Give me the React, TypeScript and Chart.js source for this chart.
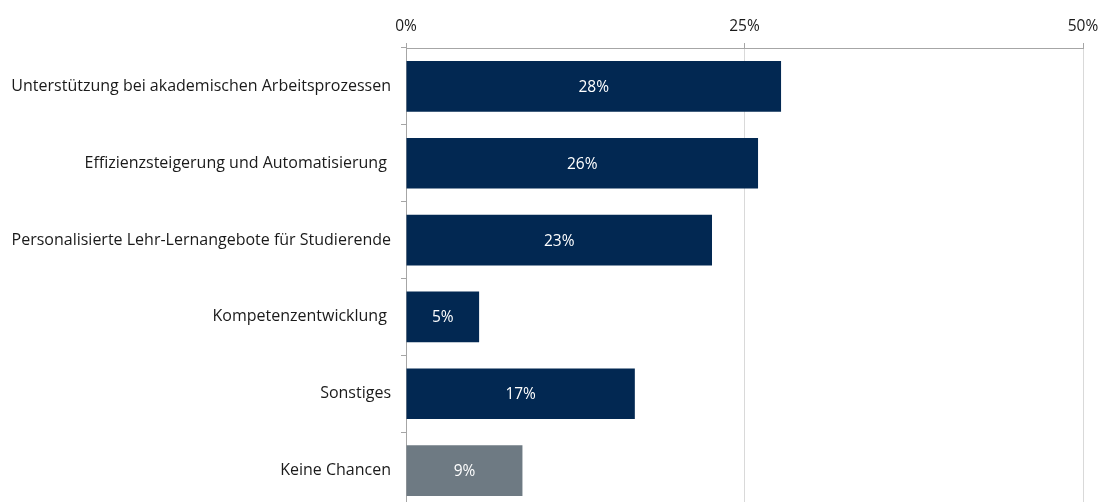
import React, { useEffect, useRef } from "react";
import { Chart, registerables } from "chart.js";

Chart.register(...registerables);

const categories = [
  "Unterstützung bei akademischen Arbeitsprozessen",
  "Effizienzsteigerung und Automatisierung ",
  "Personalisierte Lehr-Lernangebote für Studierende",
  "Kompetenzentwicklung ",
  "Sonstiges",
  "Keine Chancen",
];
const values = [27.7, 26.0, 22.6, 5.4, 16.9, 8.6];
const valueLabels = ["28%", "26%", "23%", "5%", "17%", "9%"];
const barColors = ["#022852", "#022852", "#022852", "#022852", "#022852", "#6e7a83"];
const xTickValues = [0, 25, 50];

const FONT = "'Open Sans', sans-serif";

const valueLabelPlugin = {
  id: "valueLabels",
  afterDatasetsDraw(chart: any) {
    const ctx = chart.ctx;
    const meta = chart.getDatasetMeta(0);
    ctx.save();
    ctx.fillStyle = "#ffffff";
    ctx.font = `15.5px ${FONT}`;
    ctx.textAlign = "center";
    ctx.textBaseline = "middle";
    meta.data.forEach((bar: any, i: number) => {
      const p = bar.getProps(["x", "y", "base"], true);
      ctx.fillText(valueLabels[i], (p.x + p.base) / 2, p.y + 1);
    });
    ctx.restore();
  },
};

export default function App() {
  const ref = useRef<HTMLCanvasElement | null>(null);
  useEffect(() => {
    if (!ref.current) return;
    const chart = new Chart(ref.current, {
      type: "bar",
      data: {
        labels: categories,
        datasets: [
          {
            data: values,
            backgroundColor: barColors,
            borderWidth: 0,
            categoryPercentage: 1,
            barPercentage: 0.66,
          },
        ],
      },
      plugins: [valueLabelPlugin],
      options: {
        indexAxis: "y",
        animation: false,
        responsive: false,
        layout: { padding: { left: 0, right: 17, top: 0, bottom: 0 } },
        plugins: { legend: { display: false }, tooltip: { enabled: false } },
        scales: {
          x: {
            position: "top",
            min: 0,
            max: 50,
            afterBuildTicks: (scale: any) => {
              scale.ticks = xTickValues.map((v) => ({ value: v }));
            },
            afterFit: (scale: any) => {
              scale.height = 48;
              scale.paddingLeft = 0;
              scale.paddingRight = 0;
            },
            ticks: {
              color: "#1a1a1a",
              font: { family: FONT, size: 15.5 },
              padding: 7,
              callback: (v: any) => v + "%",
            },
            grid: {
              color: "#d9d9d9",
              tickColor: "#a6a6a6",
              tickLength: 5,
              lineWidth: 1,
            },
            border: { color: "#a6a6a6", width: 1 },
          },
          y: {
            afterFit: (scale: any) => {
              scale.width = 406;
              scale.paddingTop = 0;
              scale.paddingBottom = 0;
            },
            ticks: {
              color: "#1a1a1a",
              font: { family: FONT, size: 16 },
              padding: 10,
            },
            grid: {
              offset: true,
              drawOnChartArea: false,
              drawTicks: true,
              tickLength: 5,
              tickColor: "#a6a6a6",
            },
            border: { color: "#a6a6a6", width: 1 },
          },
        },
      },
    } as any);
    return () => chart.destroy();
  }, []);
  return (
    <div style={{ position: "absolute", left: 0, top: 0, width: 1100, height: 509, background: "#fff" }}>
      <canvas ref={ref} width={1100} height={509} style={{ display: "block" }} />
    </div>
  );
}
